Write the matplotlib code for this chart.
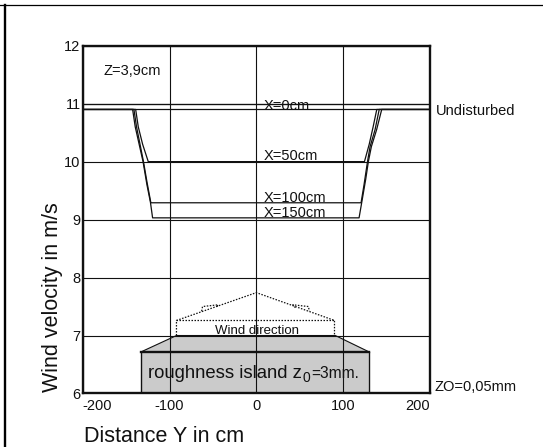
import matplotlib
matplotlib.use("Agg")
import matplotlib.pyplot as plt
from matplotlib.lines import Line2D

plt.rcParams["font.family"] = ["Liberation Sans", "DejaVu Sans"]
plt.rcParams["axes.unicode_minus"] = False

# ---------- data ----------
X_TICKS = [-200, -100, 0, 100, 200]
Y_TICKS = [6, 7, 8, 9, 10, 11, 12]

# reference levels (m/s)
V_X0 = 11.0
V_UNDIST = 10.9

# velocity profiles across the island, distance Y (cm) / velocity (m/s)
Y_X50 = [-200, -139, -136, -131, -124.5, 124.5, 130, 134.5, 138.7, 200]
V_X50 = [10.9, 10.9, 10.6, 10.3, 10.0, 10.0, 10.3, 10.6, 10.9, 10.9]

Y_X100 = [-200, -141, -138, -134, -130, -126, -121.5,
          120.6, 124, 128, 131, 136.7, 141.5, 200]
V_X100 = [10.9, 10.9, 10.6, 10.3, 10.0, 9.65, 9.29,
          9.29, 9.6, 10.0, 10.26, 10.55, 10.9, 10.9]

Y_X150 = [-200, -142.5, -139.5, -135, -130.5, -126, -122, -119.5,
          118.3, 122, 126, 129, 132.5, 138.5, 144.4, 200]
V_X150 = [10.9, 10.9, 10.6, 10.3, 10.0, 9.6, 9.3, 9.03,
          9.03, 9.35, 9.7, 10.0, 10.26, 10.55, 10.9, 10.9]

PROFILE_LABELS = ["X=0cm", "X=50cm", "X=100cm", "X=150cm"]
PROFILE_LABEL_V = [10.89, 10.02, 9.31, 9.05]

# roughness island outline
ISLAND_Y = [-132.5, -132.5, -92, 91, 129.5, 129.5]
ISLAND_V = [6.0, 6.72, 7.0, 7.0, 6.72, 6.0]

# wind direction arrow (dotted outline)
ARROW_Y = [-92, -92, 0, 90, 90]
ARROW_V = [7.0, 7.26, 7.74, 7.26, 7.0]
BARB_L_Y = [-63, -62, -44, -46]
BARB_L_V = [7.42, 7.5, 7.53, 7.48]
BARB_R_Y = [45, 42, 60, 61]
BARB_R_V = [7.48, 7.53, 7.5, 7.42]

INK = "#111111"
GREY = "#cbcbcb"

fig = plt.figure(figsize=(5.43, 4.47), dpi=100)
ax = fig.add_axes([0.1523, 0.1197, 0.6396, 0.7781])

ax.set_xlim(-200, 200)
ax.set_ylim(6, 12)
ax.set_xticks(X_TICKS)
ax.set_yticks(Y_TICKS)
ax.tick_params(length=0, labelsize=10.5, colors=INK)
ax.tick_params(axis="y", pad=1.5)
ax.tick_params(axis="x", pad=4)
xl = ax.get_xticklabels()
xl[0].set_horizontalalignment("left")
xl[-1].set_horizontalalignment("right")

ax.set_axisbelow(True)
ax.grid(True, color=INK, linewidth=0.8)
for s in ax.spines.values():
    s.set_linewidth(1.7)
    s.set_color(INK)
    s.set_zorder(6)

# island
ax.fill(ISLAND_Y, ISLAND_V, color=GREY, zorder=0.2, linewidth=0)
ax.plot(ISLAND_Y[:2], ISLAND_V[:2], color=INK, lw=1.0, zorder=3)
ax.plot(ISLAND_Y[-2:], ISLAND_V[-2:], color=INK, lw=1.0, zorder=3)
ax.plot([ISLAND_Y[1], ISLAND_Y[4]], [ISLAND_V[1], ISLAND_V[4]],
        color=INK, lw=1.7, zorder=3)
ax.plot(ISLAND_Y[1:5], ISLAND_V[1:5], color=INK, lw=0.8, zorder=3)

# island caption: pieces laid out one after another on a shared baseline
renderer = fig.canvas.get_renderer()
base_v = 6.26
x_px = ax.transData.transform((-124.5, base_v))[0]
for piece, size, dv in [("roughness island z", 13.3, 0.0), ("0", 10, -0.07),
                        ("=3mm.", 11.2, 0.0)]:
    x_d = ax.transData.inverted().transform((x_px, 0))[0]
    t = ax.text(x_d, base_v + dv, piece, fontsize=size, color=INK,
                va="baseline", ha="left", zorder=4)
    x_px = t.get_window_extent(renderer).x1 + 0.5

# wind arrow
dot = dict(color=INK, lw=0.9, linestyle=(0, (1.2, 1.2)), zorder=3)
ax.plot(ARROW_Y, ARROW_V, **dot)
ax.plot([ARROW_Y[1], ARROW_Y[3]], [ARROW_V[1], ARROW_V[3]], **dot)
ax.plot(BARB_L_Y, BARB_L_V, **dot)
ax.plot(BARB_R_Y, BARB_R_V, **dot)
ax.text(1, 7.03, "Wind direction", fontsize=9.5, color=INK,
        ha="center", va="baseline", zorder=4)

# profiles
ax.axhline(V_X0, color=INK, lw=0.9, zorder=3)
ax.axhline(V_UNDIST, color=INK, lw=0.9, zorder=3)
for yy, vv in [(Y_X50, V_X50), (Y_X100, V_X100), (Y_X150, V_X150)]:
    ax.plot(yy, vv, color=INK, lw=0.9, zorder=3)
for lab, v in zip(PROFILE_LABELS, PROFILE_LABEL_V):
    ax.text(8, v, lab, fontsize=10.5, color=INK, ha="left", va="baseline", zorder=4)

ax.text(-175.5, 11.56, "Z=3,9cm", fontsize=10.5, color=INK, ha="left", va="center")
ax.text(206.7, 10.87, "Undisturbed", fontsize=10.5, color=INK,
        ha="left", va="center", clip_on=False)
ax.text(204.7, 6.11, "ZO=0,05mm", fontsize=10.5, color=INK,
        ha="left", va="center", clip_on=False)

fig.text(52.8 / 543, 1 - 296.7 / 447, "Wind velocity in m/s", rotation=90,
         fontsize=15.5, color=INK, ha="center", va="center")
fig.text(84.5 / 543, 0.5 / 447, "Distance Y in cm", fontsize=15.5,
         color=INK, ha="left", va="bottom")

# page frame
fig.add_artist(Line2D([0, 1], [1 - 5 / 447] * 2, color="black", lw=0.9,
                      transform=fig.transFigure))
fig.add_artist(Line2D([5.3 / 543] * 2, [0, 1 - 5 / 447], color="black", lw=1.7,
                      transform=fig.transFigure))

fig.savefig("out.png", dpi=100)
